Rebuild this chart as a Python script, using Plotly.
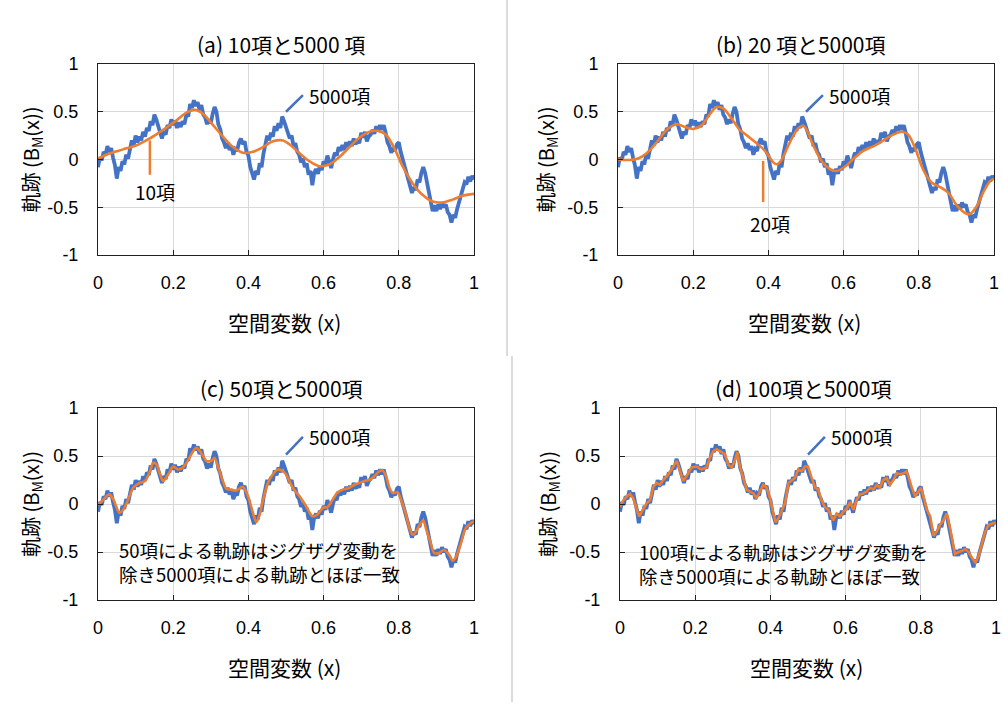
import plotly.graph_objects as go
import numpy as np

# ---------------- data ----------------
# 5000-term trajectory (same in all four panels), sampled on x grid 0..1
b5000_x = np.linspace(0, 1, 201)
b5000_y = [-0.08, 0.02, -0.01, 0.08, 0.05, 0.14, 0.08, 0.12, 0.02, -0.06,
           -0.20, -0.08, -0.12, -0.02, -0.05, 0.05, 0.01, 0.12, 0.20, 0.15,
           0.25, 0.18, 0.24, 0.20, 0.29, 0.24, 0.33, 0.30, 0.40, 0.36,
           0.47, 0.42, 0.34, 0.28, 0.22, 0.29, 0.26, 0.36, 0.33, 0.42,
           0.36, 0.41, 0.33, 0.39, 0.34, 0.40, 0.37, 0.47, 0.45, 0.58,
           0.54, 0.62, 0.56, 0.60, 0.52, 0.57, 0.47, 0.44, 0.37, 0.42,
           0.38, 0.48, 0.55, 0.50, 0.37, 0.32, 0.22, 0.18, 0.12, 0.17,
           0.10, 0.14, 0.05, 0.11, 0.09, 0.18, 0.22, 0.16, 0.19, 0.08,
           0.04, -0.08, -0.14, -0.21, -0.12, -0.16, -0.04, -0.08, 0.06, 0.18,
           0.25, 0.20, 0.28, 0.24, 0.35, 0.30, 0.38, 0.33, 0.45, 0.40,
           0.34, 0.30, 0.22, 0.25, 0.14, 0.17, 0.08, 0.05, -0.03, 0.01,
           -0.08, -0.04, -0.16, -0.12, -0.27, -0.14, -0.10, -0.15, -0.07, -0.11,
           -0.02, -0.06, 0.04, -0.02, -0.09, 0.00, 0.07, 0.04, 0.13, 0.09,
           0.15, 0.10, 0.18, 0.13, 0.19, 0.14, 0.22, 0.16, 0.20, 0.17,
           0.28, 0.23, 0.29, 0.19, 0.24, 0.26, 0.31, 0.27, 0.35, 0.30,
           0.36, 0.31, 0.36, 0.28, 0.18, 0.14, 0.07, 0.12, 0.09, 0.16,
           0.18, 0.08, 0.01, -0.08, -0.12, -0.20, -0.28, -0.35, -0.29, -0.32,
           -0.21, -0.24, -0.14, -0.08, -0.14, -0.24, -0.33, -0.42, -0.54, -0.48,
           -0.54, -0.47, -0.52, -0.45, -0.50, -0.47, -0.55, -0.58, -0.66, -0.58,
           -0.61, -0.52, -0.45, -0.38, -0.33, -0.24, -0.26, -0.18, -0.23, -0.17,
           -0.21]

# 10-term approximation
t10_x = [0.0, 0.032, 0.067, 0.103, 0.138, 0.173, 0.209, 0.235, 0.257, 0.279,
         0.306, 0.332, 0.359, 0.385, 0.412, 0.439, 0.465, 0.492, 0.509, 0.536,
         0.563, 0.589, 0.616, 0.643, 0.669, 0.696, 0.722, 0.744, 0.766, 0.788,
         0.81, 0.837, 0.863, 0.89, 0.916, 0.943, 0.969, 1.0]
t10_y = [0.01, 0.065, 0.106, 0.15, 0.22, 0.31, 0.41, 0.49, 0.52, 0.48,
         0.36, 0.24, 0.13, 0.07, 0.08, 0.13, 0.19, 0.20, 0.16, 0.065,
         -0.02, -0.07, -0.05, 0.03, 0.13, 0.23, 0.29, 0.30, 0.26, 0.12,
         -0.07, -0.25, -0.37, -0.44, -0.45, -0.42, -0.38, -0.36]

# 20-term approximation
t20_x = [0.0, 0.032, 0.054, 0.076, 0.103, 0.129, 0.156, 0.178, 0.2, 0.223,
         0.245, 0.262, 0.28, 0.302, 0.324, 0.347, 0.369, 0.391, 0.413, 0.422,
         0.435, 0.457, 0.48, 0.495, 0.519, 0.542, 0.564, 0.582, 0.605, 0.627,
         0.652, 0.68, 0.706, 0.732, 0.755, 0.772, 0.79, 0.812, 0.834, 0.857,
         0.879, 0.901, 0.923, 0.936, 0.954, 0.972, 0.989, 1.0]
t20_y = [0.0, -0.005, 0.01, 0.065, 0.18, 0.31, 0.37, 0.34, 0.32, 0.36,
         0.48, 0.55, 0.535, 0.43, 0.31, 0.24, 0.17, 0.09, -0.03, -0.05,
         -0.005, 0.18, 0.33, 0.35, 0.15, -0.02, -0.10, -0.12, -0.07, 0.01,
         0.09, 0.14, 0.20, 0.26, 0.29, 0.26, 0.12, -0.11, -0.24, -0.29,
         -0.35, -0.48, -0.56, -0.57, -0.49, -0.34, -0.23, -0.20]

# 50-term approximation
t50_x = [0.0, 0.014, 0.03, 0.041, 0.057, 0.067, 0.08, 0.094, 0.111, 0.125,
         0.138, 0.147, 0.156, 0.165, 0.173, 0.187, 0.2, 0.213, 0.226, 0.24,
         0.253, 0.262, 0.275, 0.288, 0.302, 0.31, 0.319, 0.332, 0.341, 0.355,
         0.368, 0.385, 0.399, 0.412, 0.421, 0.43, 0.439, 0.452, 0.465, 0.478,
         0.492, 0.5, 0.518, 0.536, 0.553, 0.571, 0.584, 0.598, 0.611, 0.624,
         0.637, 0.651, 0.669, 0.682, 0.696, 0.708, 0.721, 0.735, 0.748, 0.757,
         0.766, 0.775, 0.784, 0.797, 0.806, 0.819, 0.828, 0.837, 0.846, 0.855,
         0.865, 0.872, 0.885, 0.894, 0.907, 0.92, 0.934, 0.943, 0.951, 0.965,
         0.978, 0.991, 1.0]
t50_y = [-0.01, 0.045, 0.10, 0.045, -0.09, -0.06, 0.045, 0.17, 0.22, 0.24,
         0.34, 0.43, 0.41, 0.31, 0.24, 0.31, 0.39, 0.36, 0.38, 0.46,
         0.55, 0.585, 0.53, 0.45, 0.45, 0.48, 0.39, 0.24, 0.16, 0.15,
         0.14, 0.18, 0.08, -0.09, -0.19, -0.11, 0.045, 0.22, 0.31, 0.36,
         0.34, 0.31, 0.17, 0.08, -0.02, -0.13, -0.11, -0.04, -0.03, 0.045,
         0.12, 0.15, 0.17, 0.20, 0.22, 0.24, 0.25, 0.29, 0.34, 0.35,
         0.29, 0.17, 0.115, 0.12, 0.045, -0.11, -0.25, -0.32, -0.285, -0.22,
         -0.17, -0.25, -0.41, -0.51, -0.51, -0.48, -0.53, -0.59, -0.56, -0.41,
         -0.25, -0.20, -0.18]

# 100-term approximation
t100_x = [0.0, 0.009, 0.018, 0.027, 0.035, 0.044, 0.051, 0.062, 0.071, 0.08,
          0.089, 0.098, 0.106, 0.115, 0.129, 0.142, 0.151, 0.16, 0.168, 0.177,
          0.19, 0.204, 0.217, 0.23, 0.239, 0.248, 0.257, 0.266, 0.279, 0.288,
          0.297, 0.306, 0.312, 0.319, 0.328, 0.337, 0.346, 0.355, 0.363, 0.372,
          0.381, 0.39, 0.399, 0.408, 0.414, 0.421, 0.43, 0.439, 0.448, 0.457,
          0.465, 0.474, 0.483, 0.492, 0.5, 0.51, 0.519, 0.527, 0.536, 0.545,
          0.554, 0.567, 0.576, 0.585, 0.594, 0.603, 0.612, 0.621, 0.629, 0.638,
          0.647, 0.656, 0.665, 0.674, 0.683, 0.691, 0.7, 0.709, 0.718, 0.727,
          0.736, 0.745, 0.754, 0.762, 0.767, 0.776, 0.785, 0.794, 0.8, 0.807,
          0.816, 0.825, 0.834, 0.842, 0.851, 0.86, 0.869, 0.876, 0.883, 0.891,
          0.9, 0.909, 0.918, 0.927, 0.936, 0.945, 0.954, 0.962, 0.971, 0.98,
          0.989, 1.0]
t100_y = [-0.03, 0.04, 0.08, 0.105, 0.06, -0.06, -0.13, -0.05, 0.01, 0.04,
          0.18, 0.22, 0.20, 0.25, 0.31, 0.39, 0.45, 0.34, 0.24, 0.29,
          0.38, 0.39, 0.36, 0.38, 0.48, 0.55, 0.57, 0.55, 0.52, 0.41,
          0.38, 0.46, 0.54, 0.39, 0.27, 0.15, 0.13, 0.11, 0.06, 0.13,
          0.20, 0.17, 0.06, -0.10, -0.19, -0.15, -0.06, 0.01, 0.22, 0.25,
          0.27, 0.36, 0.34, 0.39, 0.39, 0.27, 0.17, 0.15, 0.04, -0.03,
          -0.06, -0.17, -0.10, -0.13, -0.08, -0.05, 0.02, -0.06, 0.04, 0.10,
          0.11, 0.13, 0.17, 0.15, 0.20, 0.17, 0.25, 0.27, 0.20, 0.25,
          0.32, 0.31, 0.32, 0.34, 0.29, 0.17, 0.08, 0.13, 0.17, 0.08,
          -0.06, -0.13, -0.33, -0.29, -0.22, -0.17, -0.10, -0.22, -0.38, -0.52,
          -0.50, -0.49, -0.47, -0.50, -0.56, -0.61, -0.54, -0.42, -0.29, -0.22,
          -0.21, -0.19]

x_tickvals = [0, 0.2, 0.4, 0.6, 0.8, 1]
x_ticktext = ["0", "0.2", "0.4", "0.6", "0.8", "1"]
y_tickvals = [-1, -0.5, 0, 0.5, 1]
y_ticktext = ["-1", "-0.5", "0", "0.5", "1"]

titles = ["(a) 10項と5000 項", "(b) 20 項と5000項", "(c) 50項と5000項", "(d) 100項と5000項"]
notes = ["50項による軌跡はジグザグ変動を<br>除き5000項による軌跡とほぼ一致",
         "100項による軌跡はジグザグ変動を<br>除き5000項による軌跡とほぼ一致"]

# ---------------- layout ----------------
W, H = 1003, 702
BLUE = "#4472C4"
ORANGE = "#ED7D31"
JP = "Noto Sans CJK JP"
NUM = "Liberation Sans"

def px(v):
    return v / W

def py(v):
    return 1 - v / H

panels = [
    dict(x0=98, x1=474, y0=64, y1=255),
    dict(x0=618, x1=994, y0=64, y1=255),
    dict(x0=98, x1=474, y0=408, y1=600),
    dict(x0=620, x1=996, y0=408, y1=600),
]
approx = [(t10_x, t10_y, "spline"), (t20_x, t20_y, "spline"),
          (t50_x, t50_y, "spline"), (t100_x, t100_y, "linear")]

fig = go.Figure()
annotations = []
shapes = []

for i, p in enumerate(panels):
    n = "" if i == 0 else str(i + 1)
    xa, ya = "x" + n, "y" + n
    fig.add_trace(go.Scatter(x=b5000_x, y=b5000_y, mode="lines",
                             line=dict(color=BLUE, width=3.8), xaxis=xa, yaxis=ya,
                             showlegend=False))
    ax, ay, shp = approx[i]
    fig.add_trace(go.Scatter(x=ax, y=ay, mode="lines",
                             line=dict(color=ORANGE, width=2.6, shape=shp, smoothing=0.8),
                             xaxis=xa, yaxis=ya, showlegend=False))
    axis_common = dict(showline=True, linecolor="#202020", linewidth=1, mirror=True,
                       showgrid=True, gridcolor="#d9d9d9", gridwidth=1,
                       ticks="inside", ticklen=5, tickcolor="#202020",
                       tickfont=dict(family=NUM, size=18, color="#000000"),
                       zeroline=False, automargin=False)
    fig.layout["xaxis" + n] = dict(axis_common, domain=[px(p["x0"]), px(p["x1"])],
                                   range=[0, 1], tickvals=x_tickvals, ticktext=x_ticktext,
                                   anchor=ya, ticklabelstandoff=11)
    fig.layout["yaxis" + n] = dict(axis_common, domain=[py(p["y1"]), py(p["y0"])],
                                   range=[-1, 1], tickvals=y_tickvals, ticktext=y_ticktext,
                                   anchor=xa, ticklabelstandoff=15)
    cx = (p["x0"] + p["x1"]) / 2
    # panel title
    annotations.append(dict(text=titles[i], x=px(cx - 5), y=py(p["y0"] - 20), xref="paper", yref="paper",
                            showarrow=False, font=dict(family=JP, size=21, color="#000000"),
                            xanchor="center", yanchor="middle"))
    # x-axis title
    annotations.append(dict(text="空間変数 (x)", x=px(cx - 2), y=py(p["y1"] + 67), xref="paper", yref="paper",
                            showarrow=False, font=dict(family=JP, size=21, color="#000000"),
                            xanchor="center", yanchor="middle"))
    # y-axis title
    annotations.append(dict(text="軌跡 (B<sub>M</sub>(x))", x=px(p["x0"] - 67 if i % 2 == 0 else p["x0"] - 72),
                            y=py((p["y0"] + p["y1"]) / 2), xref="paper", yref="paper",
                            showarrow=False, textangle=-90,
                            font=dict(family=JP, size=20, color="#000000"),
                            xanchor="center", yanchor="middle"))
    # 5000 term label with pointer
    ly = 0.675 if i < 2 else 0.70
    annotations.append(dict(text="5000項", x=0.555, y=ly, xref=xa, yref=ya, showarrow=False,
                            font=dict(family=JP, size=19, color="#000000"),
                            xanchor="left", yanchor="middle"))
    shapes.append(dict(type="line", xref=xa, yref=ya, x0=0.50, y0=0.50 if i < 2 else 0.515,
                       x1=0.545, y1=ly, line=dict(color=BLUE, width=2.5)))

# 10 / 20 term labels
shapes.append(dict(type="line", xref="x", yref="y", x0=0.138, x1=0.138, y0=0.20, y1=-0.16,
                   line=dict(color=ORANGE, width=2.5)))
annotations.append(dict(text="10項", x=0.151, y=-0.33, xref="x", yref="y", showarrow=False,
                        font=dict(family=JP, size=19, color="#000000")))
shapes.append(dict(type="line", xref="x2", yref="y2", x0=0.386, x1=0.386, y0=-0.015, y1=-0.445,
                   line=dict(color=ORANGE, width=2.5)))
annotations.append(dict(text="20項", x=0.404, y=-0.665, xref="x2", yref="y2", showarrow=False,
                        font=dict(family=JP, size=19, color="#000000")))

# notes in (c) and (d)
annotations.append(dict(text=notes[0], x=0.05, y=-0.60, xref="x3", yref="y3", showarrow=False,
                        align="left", xanchor="left", yanchor="middle",
                        font=dict(family=JP, size=18.5, color="#000000")))
annotations.append(dict(text=notes[1], x=0.045, y=-0.62, xref="x4", yref="y4", showarrow=False,
                        align="left", xanchor="left", yanchor="middle",
                        font=dict(family=JP, size=18.5, color="#000000")))

# separator lines between the two columns
shapes.append(dict(type="line", xref="paper", yref="paper", x0=px(507), x1=px(507), y0=py(0), y1=py(356),
                   line=dict(color="#d0d0d0", width=1.5)))
shapes.append(dict(type="line", xref="paper", yref="paper", x0=px(512), x1=px(512), y0=py(356), y1=py(702),
                   line=dict(color="#d0d0d0", width=1.5)))

fig.update_layout(width=W, height=H, margin=dict(l=0, r=0, t=0, b=0, autoexpand=False),
                  paper_bgcolor="white", plot_bgcolor="white",
                  annotations=annotations, shapes=shapes, showlegend=False)

fig.write_html("out.html", config={"displayModeBar": False},
               post_script="document.body.style.margin='0';document.body.style.padding='0';")
